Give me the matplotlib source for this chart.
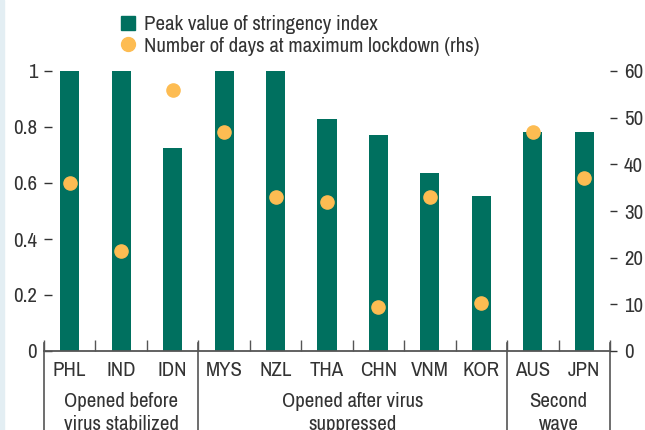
import numpy as np
import matplotlib
matplotlib.use('Agg')
import matplotlib.pyplot as plt
from matplotlib import font_manager
from matplotlib.lines import Line2D
from matplotlib.patches import Rectangle

# prefer a narrow sans if one is installed
narrow = sorted({f.name for f in font_manager.fontManager.ttflist
                 if 'Narrow' in f.name or 'Condensed' in f.name})
plt.rcParams['font.family'] = narrow[:1] + ['Liberation Sans', 'DejaVu Sans']
FS = 15 if narrow else 12

countries = ['PHL', 'IND', 'IDN', 'MYS', 'NZL', 'THA', 'CHN', 'VNM', 'KOR', 'AUS', 'JPN']
stringency = [1.0, 1.0, 0.725, 1.0, 1.0, 0.829, 0.771, 0.636, 0.554, 0.782, 0.782]
lockdown_days = [36, 21.5, 56, 47, 33, 32, 9.5, 33, 10.3, 47, 37]
groups = ['Opened before\nvirus stabilized', 'Opened after virus\nsuppressed', 'Second\nwave']
group_sizes = [3, 6, 2]

BAR = '#00705F'
DOT = '#FDBC52'
TXT = '#333333'

fig = plt.figure(figsize=(6.45, 4.3), dpi=100)
fig.patches.append(Rectangle((0, 0), 4 / 645, 1, transform=fig.transFigure,
                             color='#E3EEF3', zorder=0))
ax = fig.add_axes([44 / 645, 1 - 351 / 430, 566 / 645, 280 / 430])
ax2 = ax.twinx()

x = np.arange(len(countries))
ax.bar(x, stringency, width=0.37, color=BAR, zorder=2)
ax2.scatter(x, lockdown_days, s=90, color=DOT, zorder=3, clip_on=False)

ax.set_xlim(-0.5, len(countries) - 0.5)
ax.set_ylim(0, 1)
ax2.set_ylim(0, 60)

ax.set_yticks(np.arange(0, 1.01, 0.2))
ax.set_yticklabels(['0', '0.2', '0.4', '0.6', '0.8', '1'])
ax2.set_yticks(np.arange(0, 61, 10))

ax.set_xticks(x)
ax.set_xticklabels(countries)
ax.set_xticks(np.arange(-0.5, len(countries), 1), minor=True)

for a in (ax, ax2):
    for s in ['top', 'left', 'right']:
        a.spines[s].set_visible(False)
ax2.spines['bottom'].set_visible(False)
ax.spines['bottom'].set_color('#555555')
ax.spines['bottom'].set_linewidth(1.3)

ax.tick_params(axis='y', direction='in', length=6, width=1, color=TXT,
               labelsize=FS, labelcolor=TXT, pad=5)
ax2.tick_params(axis='y', direction='out', length=5, width=1, color=TXT,
                labelsize=FS, labelcolor=TXT, pad=5)
ax.tick_params(axis='x', which='major', length=0, labelsize=FS, labelcolor=TXT, pad=7)
ax.tick_params(axis='x', which='minor', direction='in', length=8, width=1, color='#555555')

# group separators and labels below the axis
bottom = -(430 - 351) / 280 - 0.05
edges = np.concatenate([[0], np.cumsum(group_sizes)]) - 0.5
for e in edges:
    ax.add_line(Line2D([e, e], [8 / 280, bottom], transform=ax.get_xaxis_transform(),
                       color='#555555', lw=1.2, clip_on=False))
for g, lo, hi in zip(groups, edges[:-1], edges[1:]):
    ax.text((lo + hi) / 2, -41 / 280, g, transform=ax.get_xaxis_transform(),
            ha='center', va='top', fontsize=FS, color=TXT, linespacing=1.3)

handles = [Line2D([], [], marker='s', ls='', color=BAR, markersize=10),
           Line2D([], [], marker='o', ls='', color=DOT, markersize=10)]
fig.legend(handles, ['Peak value of stringency index',
                     'Number of days at maximum lockdown (rhs)'],
           loc='upper left', bbox_to_anchor=(121 / 645, 1 - 15 / 430),
           frameon=False, fontsize=FS, labelcolor=TXT, handlelength=0.7,
           handletextpad=0.4, labelspacing=0.12, borderaxespad=0, borderpad=0)

fig.savefig('out.png', dpi=100)
